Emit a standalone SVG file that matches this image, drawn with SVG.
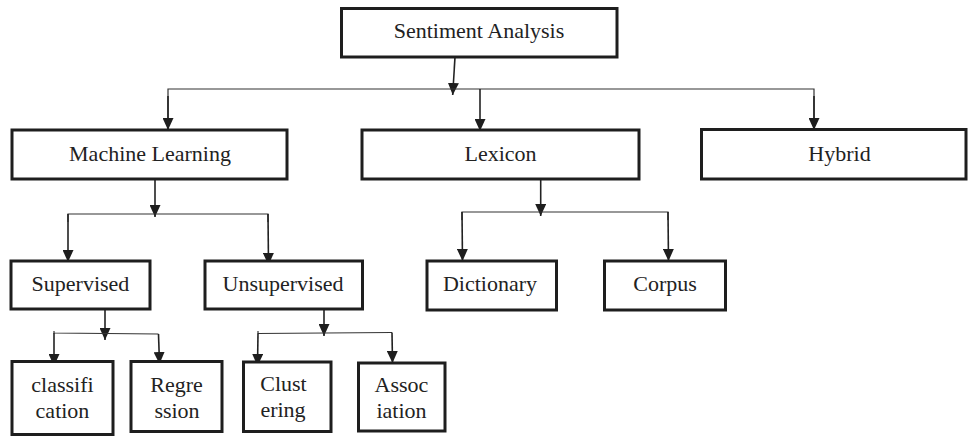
<svg xmlns="http://www.w3.org/2000/svg" width="968" height="436" viewBox="0 0 968 436">
<style>
.box{fill:#fff;stroke:#1e1e1e;stroke-width:3}
.lbl{font-family:'Liberation Serif','LiberationSerif','Noto Serif','DejaVu Serif',serif;font-size:22px;fill:#222;text-anchor:middle}
.c{fill:none;stroke:#222;stroke-width:1.6}
.h{fill:none;stroke:#333;stroke-width:1.2}
</style>
<defs>
<marker id="ah" viewBox="0 0 12 11" refX="12" refY="5.5" markerWidth="12" markerHeight="11" markerUnits="userSpaceOnUse" orient="auto">
<path d="M0,0 L12,5.5 L0,11 z" fill="#1e1e1e"/>
</marker>
</defs>
<rect width="968" height="436" fill="#fff"/>
<g id="connectors">
<line class="c" x1="455" y1="57" x2="452.7" y2="95" marker-end="url(#ah)"/>
<polyline class="h" points="168,130 168,89 814,89 814,130"/>
<line class="c" x1="168" y1="96" x2="168" y2="130" marker-end="url(#ah)"/>
<line class="c" x1="814" y1="96" x2="814" y2="130" marker-end="url(#ah)"/>
<line class="c" x1="480" y1="89" x2="480" y2="131" marker-end="url(#ah)"/>

<line class="c" x1="155" y1="179" x2="155" y2="217" marker-end="url(#ah)"/>
<polyline class="h" points="68,222 68,214 268,214 268,222"/>
<line class="c" x1="68" y1="214" x2="68" y2="262" marker-end="url(#ah)"/>
<line class="c" x1="268" y1="214" x2="268.5" y2="265" marker-end="url(#ah)"/>

<line class="c" x1="540.7" y1="179" x2="540.7" y2="216" marker-end="url(#ah)"/>
<polyline class="h" points="462,220 462,212 668,212 668,220"/>
<line class="c" x1="462" y1="212" x2="462.5" y2="261" marker-end="url(#ah)"/>
<line class="c" x1="668" y1="212" x2="668.5" y2="261" marker-end="url(#ah)"/>

<line class="c" x1="105" y1="310" x2="105" y2="340" marker-end="url(#ah)"/>
<polyline class="h" points="54,331 54,333 158.5,334"/>
<line class="c" x1="54" y1="333" x2="54" y2="366" marker-end="url(#ah)"/>
<line class="c" x1="158.5" y1="334" x2="159.5" y2="364" marker-end="url(#ah)"/>

<line class="c" x1="324" y1="310" x2="324" y2="336" marker-end="url(#ah)"/>
<polyline class="h" points="258,331 258,333.5 392,332.5"/>
<line class="c" x1="258" y1="333.5" x2="257.5" y2="366" marker-end="url(#ah)"/>
<line class="c" x1="392" y1="332.5" x2="392.5" y2="363" marker-end="url(#ah)"/>
</g>
<g id="sentiment">
<rect class="box" x="341.5" y="8.5" width="275.5" height="48.5"/>
<text class="lbl" x="479" y="38">Sentiment Analysis</text>
</g>
<g id="ml">
<rect class="box" x="12" y="130" width="275" height="49"/>
<text class="lbl" x="150" y="161">Machine Learning</text>
</g>
<g id="lexicon">
<rect class="box" x="362" y="130" width="277" height="49"/>
<text class="lbl" x="500.5" y="161">Lexicon</text>
</g>
<g id="hybrid">
<rect class="box" x="701.5" y="129.5" width="264.5" height="49.5"/>
<text class="lbl" x="839.5" y="161">Hybrid</text>
</g>
<g id="supervised">
<rect class="box" x="11" y="261" width="139" height="48"/>
<text class="lbl" x="80.5" y="291">Supervised</text>
</g>
<g id="unsupervised">
<rect class="box" x="205" y="261" width="157.5" height="48"/>
<text class="lbl" x="283" y="291">Unsupervised</text>
</g>
<g id="dictionary">
<rect class="box" x="427" y="261" width="129.5" height="49"/>
<text class="lbl" x="490" y="291">Dictionary</text>
</g>
<g id="corpus">
<rect class="box" x="604.5" y="261" width="121" height="49"/>
<text class="lbl" x="665" y="291">Corpus</text>
</g>
<g id="classification">
<rect class="box" x="12" y="361.5" width="101" height="73"/>
<text class="lbl" x="62.5" y="392">classifi</text>
<text class="lbl" x="62.5" y="418">cation</text>
</g>
<g id="regression">
<rect class="box" x="131" y="361.5" width="91" height="70"/>
<text class="lbl" x="176.5" y="392">Regre</text>
<text class="lbl" x="177" y="418">ssion</text>
</g>
<g id="clustering">
<rect class="box" x="243.5" y="362" width="87.5" height="69.5"/>
<text class="lbl" x="283.5" y="391">Clust</text>
<text class="lbl" x="283" y="417">ering</text>
</g>
<g id="association">
<rect class="box" x="358.5" y="363" width="86.5" height="68"/>
<text class="lbl" x="401.5" y="392">Assoc</text>
<text class="lbl" x="401.5" y="418">iation</text>
</g>
</svg>
